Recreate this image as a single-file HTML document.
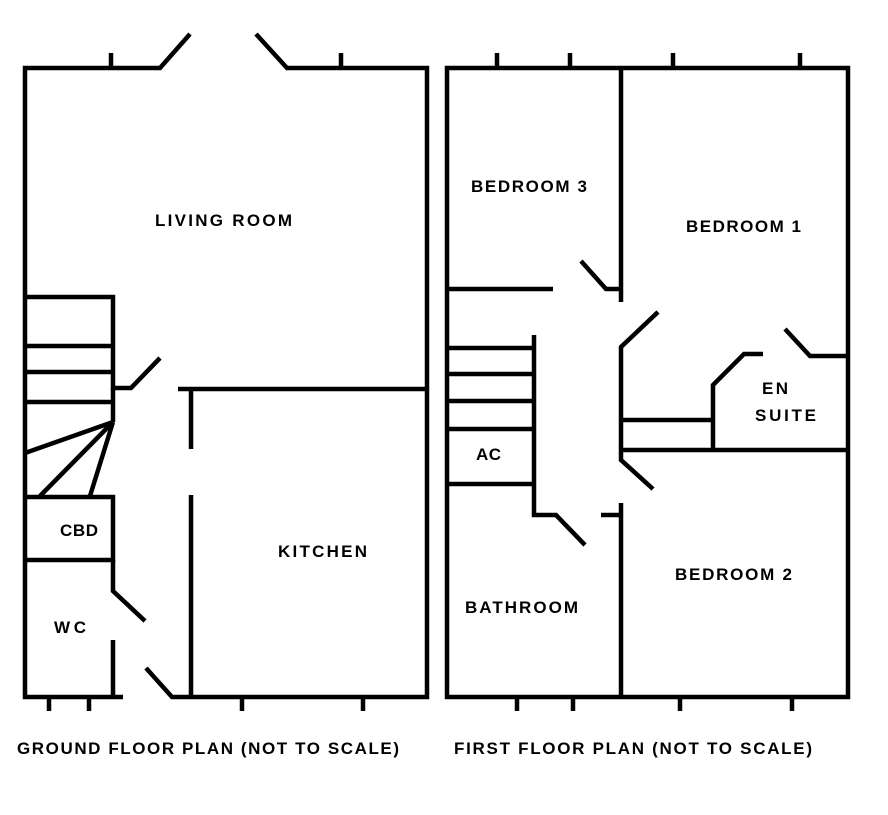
<!DOCTYPE html>
<html><head><meta charset="utf-8"><style>
html,body{margin:0;padding:0;background:#fff;}
svg{display:block}
text{font-family:"Liberation Sans",sans-serif;font-size:17px;font-weight:bold;fill:#000;}
</style></head><body>
<svg width="888" height="815" viewBox="0 0 888 815" xmlns="http://www.w3.org/2000/svg">
<g stroke="#000" stroke-width="4.5" fill="none" stroke-linecap="butt" stroke-linejoin="miter">
<polyline points="190,34 160,68 25,68 25,697 123,697"/>
<polyline points="256,34 287,68 427,68 427,697 172,697 146,668"/>
<line x1="111" y1="53" x2="111" y2="68"/>
<line x1="341" y1="53" x2="341" y2="68"/>
<line x1="49" y1="697" x2="49" y2="711"/>
<line x1="89" y1="697" x2="89" y2="711"/>
<line x1="242" y1="697" x2="242" y2="711"/>
<line x1="363" y1="697" x2="363" y2="711"/>
<polyline points="25,297 113,297 113,388 131,388 160,358"/>
<line x1="113" y1="388" x2="113" y2="422"/>
<line x1="25" y1="346" x2="113" y2="346"/>
<line x1="25" y1="372" x2="113" y2="372"/>
<line x1="25" y1="402" x2="113" y2="402"/>
<line x1="113" y1="422" x2="25" y2="453"/>
<line x1="113" y1="422" x2="40" y2="496"/>
<line x1="113" y1="422" x2="90" y2="496"/>
<polyline points="25,497 113,497 113,560 25,560"/>
<polyline points="113,560 113,591 145,621"/>
<line x1="113" y1="640" x2="113" y2="697"/>
<line x1="178" y1="389" x2="427" y2="389"/>
<line x1="191" y1="389" x2="191" y2="449"/>
<line x1="191" y1="495" x2="191" y2="697"/>
<rect x="447" y="68" width="401" height="629"/>
<line x1="497" y1="53" x2="497" y2="68"/>
<line x1="570" y1="53" x2="570" y2="68"/>
<line x1="673" y1="53" x2="673" y2="68"/>
<line x1="800" y1="53" x2="800" y2="68"/>
<line x1="517" y1="697" x2="517" y2="711"/>
<line x1="573" y1="697" x2="573" y2="711"/>
<line x1="680" y1="697" x2="680" y2="711"/>
<line x1="792" y1="697" x2="792" y2="711"/>
<line x1="621" y1="68" x2="621" y2="302"/>
<line x1="447" y1="289" x2="553" y2="289"/>
<polyline points="581,261 606,289 621,289"/>
<line x1="447" y1="348" x2="534" y2="348"/>
<line x1="447" y1="374" x2="534" y2="374"/>
<line x1="447" y1="401" x2="534" y2="401"/>
<line x1="447" y1="429" x2="534" y2="429"/>
<line x1="447" y1="484" x2="534" y2="484"/>
<polyline points="534,335 534,515 556,515 585,545"/>
<polyline points="601,515 621,515"/>
<line x1="621" y1="503" x2="621" y2="697"/>
<polyline points="658,312 621,347 621,460 653,489"/>
<line x1="621" y1="420" x2="713" y2="420"/>
<line x1="621" y1="450" x2="848" y2="450"/>
<polyline points="713,450 713,385 744,354 763,354"/>
<polyline points="785,329 810,356 848,356"/>
</g>
<text x="155" y="226" textLength="137">LIVING ROOM</text>
<text x="278" y="557" textLength="89">KITCHEN</text>
<text x="60" y="536" textLength="38">CBD</text>
<text x="54" y="633" textLength="32">WC</text>
<text x="471" y="192" textLength="116">BEDROOM 3</text>
<text x="686" y="232" textLength="115">BEDROOM 1</text>
<text x="762" y="394" textLength="26">EN</text>
<text x="755" y="421" textLength="61">SUITE</text>
<text x="476" y="460" textLength="25">AC</text>
<text x="465" y="613" textLength="113">BATHROOM</text>
<text x="675" y="580" textLength="117">BEDROOM 2</text>
<text x="17" y="754" textLength="382">GROUND FLOOR PLAN (NOT TO SCALE)</text>
<text x="454" y="754" textLength="358">FIRST FLOOR PLAN (NOT TO SCALE)</text>
</svg>
</body></html>
